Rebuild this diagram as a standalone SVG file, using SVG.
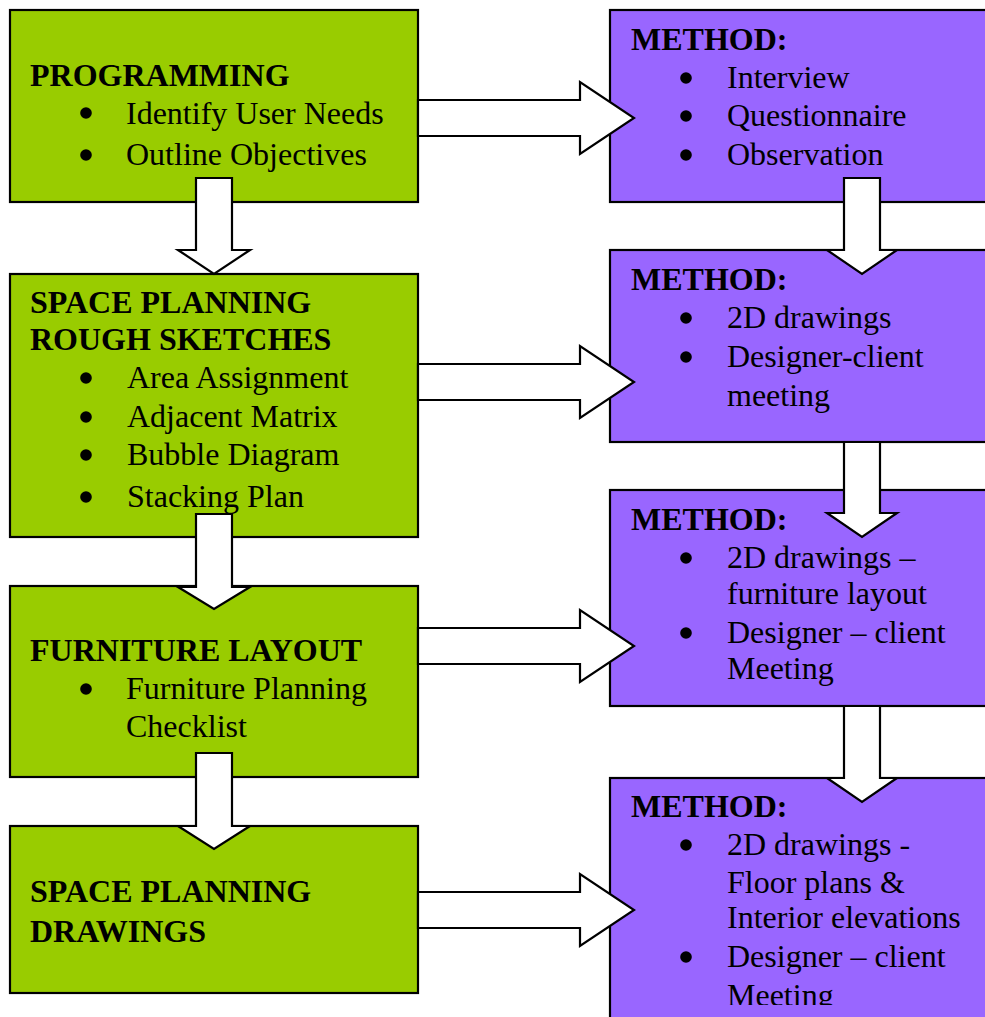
<svg xmlns="http://www.w3.org/2000/svg" width="985" height="1017" viewBox="0 0 985 1017">
  <style>
    .stage { fill: #99CC00; stroke: #000; stroke-width: 2.2; }
    .method { fill: #9966FF; stroke: #000; stroke-width: 2.2; }
    .arrow { fill: #fff; stroke: #000; stroke-width: 2.2; stroke-linejoin: miter; }
    text { font-family: "Liberation Serif", "Times New Roman", serif; font-size: 32px; fill: #000; }
    .title { font-weight: bold; }
    .dot { fill: #000; }
  </style>
  <defs>
    <clipPath id="pageClip">
      <rect x="0" y="0" width="985" height="1005"/>
    </clipPath>
  </defs>
  <rect width="985" height="1017" fill="#fff"/>

  <!-- Left column: design stages -->
  <g id="programming">
    <rect class="stage" x="10" y="10" width="408" height="192"/>
    <text class="title" x="30" y="86">PROGRAMMING</text>
    <circle class="dot" cx="86" cy="113" r="5.8"/>
    <text x="126" y="124">Identify User Needs</text>
    <circle class="dot" cx="86" cy="155" r="5.8"/>
    <text x="126" y="165">Outline Objectives</text>
  </g>

  <g id="rough-sketches">
    <rect class="stage" x="10" y="274" width="408" height="263"/>
    <text class="title" x="30" y="313">SPACE PLANNING</text>
    <text class="title" x="30" y="350">ROUGH SKETCHES</text>
    <circle class="dot" cx="86" cy="378" r="5.8"/>
    <text x="127" y="388">Area Assignment</text>
    <circle class="dot" cx="86" cy="417" r="5.8"/>
    <text x="127" y="427">Adjacent Matrix</text>
    <circle class="dot" cx="86" cy="455" r="5.8"/>
    <text x="127" y="465">Bubble Diagram</text>
    <circle class="dot" cx="86" cy="497" r="5.8"/>
    <text x="127" y="507">Stacking Plan</text>
  </g>

  <g id="furniture-layout">
    <rect class="stage" x="10" y="586" width="408" height="191"/>
    <text class="title" x="30" y="661">FURNITURE LAYOUT</text>
    <circle class="dot" cx="86" cy="689" r="5.8"/>
    <text x="126" y="699">Furniture Planning</text>
    <text x="126" y="737">Checklist</text>
  </g>

  <g id="planning-drawings">
    <rect class="stage" x="10" y="826" width="408" height="167"/>
    <text class="title" x="30" y="902">SPACE PLANNING</text>
    <text class="title" x="30" y="942">DRAWINGS</text>
  </g>

  <!-- Right column: methods -->
  <g id="method-1">
    <rect class="method" x="610" y="10" width="400" height="192"/>
    <text class="title" x="631" y="50">METHOD:</text>
    <circle class="dot" cx="686" cy="78" r="5.8"/>
    <text x="727" y="88">Interview</text>
    <circle class="dot" cx="686" cy="116" r="5.8"/>
    <text x="727" y="126">Questionnaire</text>
    <circle class="dot" cx="686" cy="155" r="5.8"/>
    <text x="727" y="165">Observation</text>
  </g>

  <g id="method-2">
    <rect class="method" x="610" y="250" width="400" height="192"/>
    <text class="title" x="631" y="290">METHOD:</text>
    <circle class="dot" cx="686" cy="318" r="5.8"/>
    <text x="727" y="328">2D drawings</text>
    <circle class="dot" cx="686" cy="357" r="5.8"/>
    <text x="727" y="367">Designer-client</text>
    <text x="727" y="406">meeting</text>
  </g>

  <g id="method-3">
    <rect class="method" x="610" y="490" width="400" height="216"/>
    <text class="title" x="631" y="530">METHOD:</text>
    <circle class="dot" cx="686" cy="558" r="5.8"/>
    <text x="727" y="568">2D drawings –</text>
    <text x="727" y="604">furniture layout</text>
    <circle class="dot" cx="686" cy="633" r="5.8"/>
    <text x="727" y="643">Designer – client</text>
    <text x="727" y="679">Meeting</text>
  </g>

  <g id="method-4">
    <rect class="method" x="610" y="778" width="400" height="260"/>
    <g clip-path="url(#pageClip)">
      <text class="title" x="631" y="817">METHOD:</text>
      <circle class="dot" cx="686" cy="845" r="5.8"/>
      <text x="727" y="855">2D drawings -</text>
      <text x="727" y="893">Floor plans &amp;</text>
      <text x="727" y="928">Interior elevations</text>
      <circle class="dot" cx="686" cy="957" r="5.8"/>
      <text x="727" y="967">Designer – client</text>
      <text x="727" y="1006">Meeting</text>
    </g>
  </g>

  <!-- Block arrows -->
  <g id="connectors">
    <!-- stage to stage -->
    <polygon class="arrow" points="196,178 232,178 232,250 250,250 214,274 178,250 196,250"/>
    <polygon class="arrow" points="196,514 232,514 232,587 250,587 214,609 178,587 196,587"/>
    <polygon class="arrow" points="196,753 232,753 232,826 250,826 214,849 178,826 196,826"/>
    <!-- method to method -->
    <polygon class="arrow" points="844,178 880,178 880,250 897,250 862,274 827,250 844,250"/>
    <polygon class="arrow" points="844,442 880,442 880,513 897,513 862,537 827,513 844,513"/>
    <polygon class="arrow" points="844,706 880,706 880,778 897,778 862,802 827,778 844,778"/>
    <!-- stage to method -->
    <polygon class="arrow" points="418,100 580,100 580,82 634,118 580,154 580,136 418,136"/>
    <polygon class="arrow" points="418,364 580,364 580,346 634,382 580,418 580,400 418,400"/>
    <polygon class="arrow" points="418,628 580,628 580,610 634,646 580,682 580,664 418,664"/>
    <polygon class="arrow" points="418,892 580,892 580,874 634,910 580,946 580,928 418,928"/>
  </g>
</svg>
